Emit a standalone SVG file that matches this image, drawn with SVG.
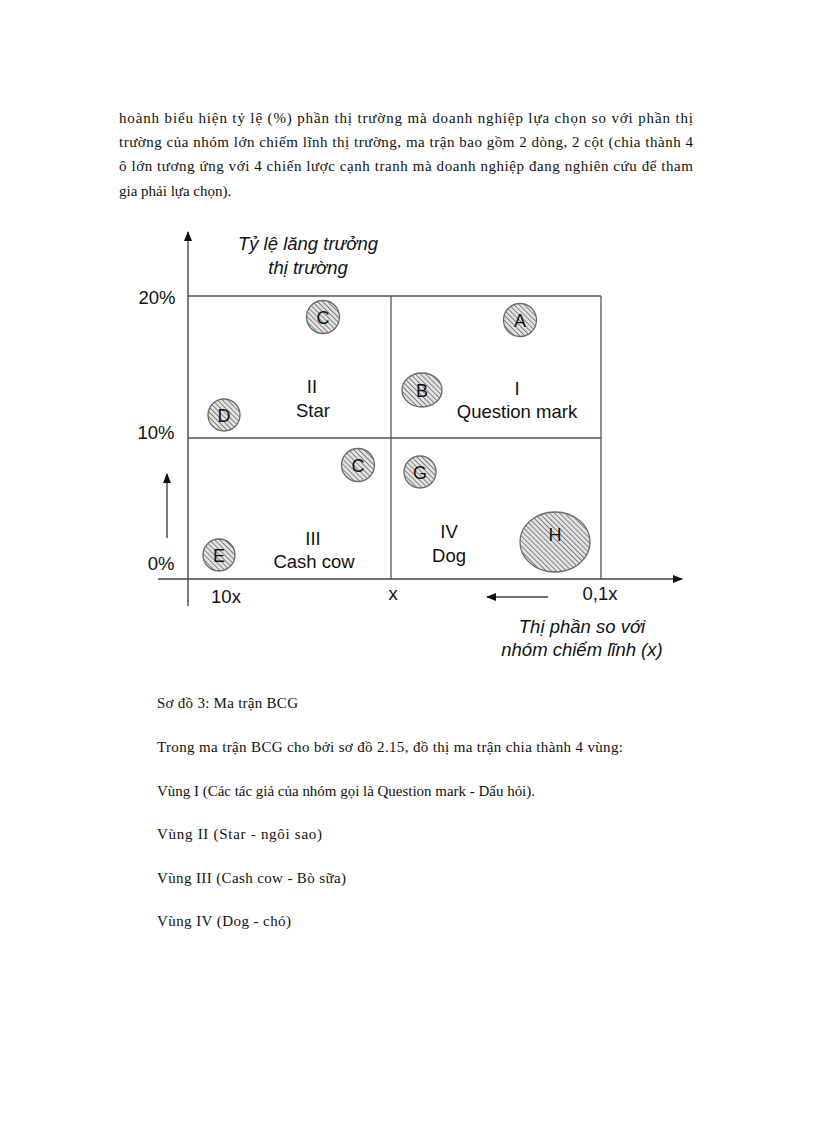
<svg xmlns="http://www.w3.org/2000/svg" width="816" height="1123" viewBox="0 0 816 1123">
<style>
.body{font-family:"Liberation Serif","Times New Roman",serif;font-size:15px;fill:#111}
.lab{font-family:"Liberation Sans",Arial,sans-serif;font-size:18.5px;fill:#111;text-anchor:middle}
.it{font-style:italic}
.bl{font-family:"Liberation Sans",Arial,sans-serif;font-size:18px;fill:#111;text-anchor:middle}
.grid{stroke:#555;stroke-width:1.3;fill:none}
.axis{stroke:#444;stroke-width:1.4;fill:none}
.bub{fill:url(#hatch);stroke:#6a6a6a;stroke-width:1.3}
</style>
<defs>
<pattern id="hatch" patternUnits="userSpaceOnUse" width="3.6" height="3.6" patternTransform="rotate(-45)">
<rect width="3.6" height="3.6" fill="#e2e2e2"/>
<line x1="0" y1="0" x2="0" y2="3.6" stroke="#6e6e6e" stroke-width="1.6"/>
</pattern>
<marker id="ah" markerWidth="10" markerHeight="8" refX="9" refY="4" orient="auto" markerUnits="userSpaceOnUse">
<path d="M0,0 L10,4 L0,8 z" fill="#111"/>
</marker>
</defs>
<rect width="816" height="1123" fill="#fff"/>

<g id="para-top">
<text class="body" x="119" y="123" textLength="574" lengthAdjust="spacing">hoành  biểu  hiện  tỷ  lệ  (%)  phần  thị  trường  mà  doanh  nghiệp  lựa  chọn  so  với  phần  thị</text>
<text class="body" x="119" y="147" textLength="574" lengthAdjust="spacing">trường  của nhóm  lớn  chiếm  lĩnh  thị  trường,  ma  trận  bao gồm  2  dòng,  2 cột  (chia  thành  4</text>
<text class="body" x="119" y="171" textLength="574" lengthAdjust="spacing">ô lớn  tương  ứng  với  4  chiến  lược  cạnh  tranh  mà  doanh  nghiệp  đang  nghiên  cứu  để  tham</text>
<text class="body" x="119" y="196">gia  phải lựa chọn).</text>
</g>

<g id="connectors">
<line class="axis" x1="188" y1="606" x2="188" y2="232" marker-end="url(#ah)"/>
<line class="axis" x1="158" y1="579" x2="682" y2="579" marker-end="url(#ah)"/>
<line class="axis" x1="167" y1="538" x2="167" y2="474" marker-end="url(#ah)"/>
<line class="axis" x1="548" y1="597" x2="487" y2="597" marker-end="url(#ah)"/>
</g>

<g id="grid">
<line class="grid" x1="188" y1="296" x2="601" y2="296"/>
<line class="grid" x1="188" y1="438" x2="601" y2="438"/>
<line class="grid" x1="391" y1="296" x2="391" y2="579"/>
<line class="grid" x1="601" y1="296" x2="601" y2="579"/>
</g>

<g id="y-axis-labels">
<text class="lab it" x="308" y="250">Tỷ lệ lăng trưởng</text>
<text class="lab it" x="308" y="274">thị trường</text>
<text class="lab" x="157" y="304">20%</text>
<text class="lab" x="156" y="439">10%</text>
<text class="lab" x="161" y="570">0%</text>
</g>

<g id="x-axis-labels">
<text class="lab" x="226" y="603">10x</text>
<text class="lab" x="393" y="600">x</text>
<text class="lab" x="600" y="600">0,1x</text>
<text class="lab it" x="582" y="633">Thị phần so với</text>
<text class="lab it" x="582" y="656">nhóm chiếm lĩnh (x)</text>
</g>

<g id="quadrant-I">
<text class="lab" x="517" y="395">I</text>
<text class="lab" x="517" y="418">Question mark</text>
</g>
<g id="quadrant-II">
<text class="lab" x="312" y="393">II</text>
<text class="lab" x="313" y="417">Star</text>
</g>
<g id="quadrant-III">
<text class="lab" x="313" y="545">III</text>
<text class="lab" x="314" y="568">Cash cow</text>
</g>
<g id="quadrant-IV">
<text class="lab" x="449" y="538">IV</text>
<text class="lab" x="449" y="562">Dog</text>
</g>

<g id="bubble-A"><circle class="bub" cx="520" cy="320" r="16.5"/><text class="bl" x="520" y="327">A</text></g>
<g id="bubble-B"><ellipse class="bub" cx="422" cy="390" rx="20" ry="17"/><text class="bl" x="422" y="397">B</text></g>
<g id="bubble-C1"><circle class="bub" cx="323" cy="317" r="16.5"/><text class="bl" x="323" y="324">C</text></g>
<g id="bubble-D"><circle class="bub" cx="224" cy="415" r="16"/><text class="bl" x="224" y="422">D</text></g>
<g id="bubble-C2"><circle class="bub" cx="358" cy="465" r="16.5"/><text class="bl" x="358" y="472">C</text></g>
<g id="bubble-G"><circle class="bub" cx="420" cy="472" r="16"/><text class="bl" x="420" y="479">G</text></g>
<g id="bubble-E"><circle class="bub" cx="219" cy="555" r="16"/><text class="bl" x="219" y="562">E</text></g>
<g id="bubble-H"><ellipse class="bub" cx="555" cy="542" rx="35" ry="30"/><text class="bl" x="555" y="541">H</text></g>

<g id="para-bottom">
<text class="body" x="157" y="708" textLength="141" lengthAdjust="spacing">Sơ đồ 3: Ma trận BCG</text>
<text class="body" x="157" y="752" textLength="466" lengthAdjust="spacing">Trong  ma trận  BCG cho bởi  sơ đồ 2.15, đồ thị  ma trận  chia  thành  4 vùng:</text>
<text class="body" x="157" y="796" textLength="378" lengthAdjust="spacing">Vùng  I (Các tác giả của nhóm  gọi là Question  mark  - Dấu hỏi).</text>
<text class="body" x="157" y="839" textLength="165" lengthAdjust="spacing">Vùng  II (Star  - ngôi  sao)</text>
<text class="body" x="157" y="883" textLength="189" lengthAdjust="spacing">Vùng  III (Cash  cow - Bò sữa)</text>
<text class="body" x="157" y="926" textLength="134" lengthAdjust="spacing">Vùng  IV (Dog  - chó)</text>
</g>
</svg>
